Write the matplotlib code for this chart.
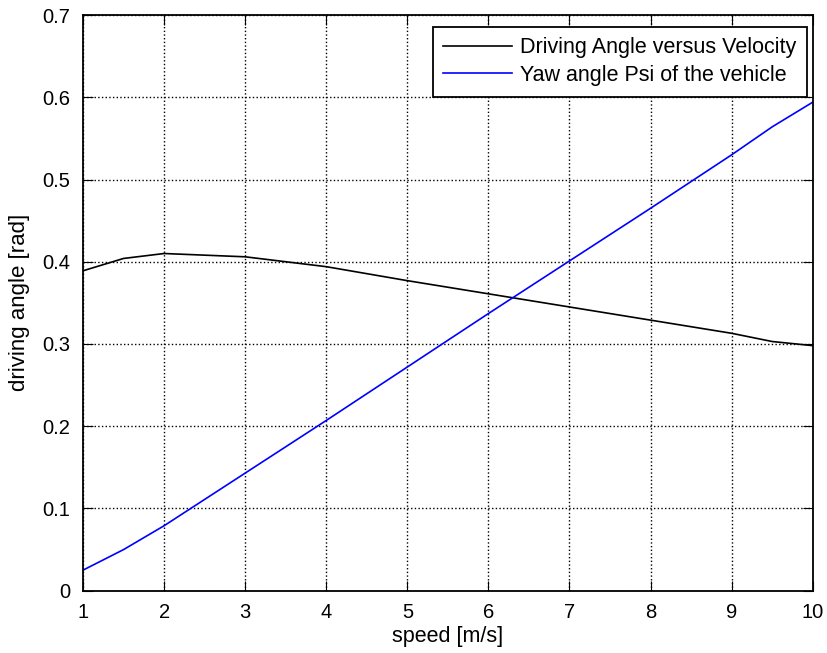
import numpy as np
import matplotlib.pyplot as plt

plt.rcParams['font.family'] = ['Liberation Sans', 'DejaVu Sans']

speed = [1, 1.5, 2, 3, 4, 5, 6, 7, 8, 9, 9.5, 10]
driving_angle = [0.389, 0.404, 0.410, 0.406, 0.394, 0.377, 0.361, 0.345, 0.329, 0.313, 0.303, 0.298]
yaw_angle = [0.025, 0.050, 0.079, 0.143, 0.207, 0.272, 0.337, 0.401, 0.465, 0.530, 0.564, 0.594]

fig = plt.figure(figsize=(8.27, 6.53), dpi=100)
ax = fig.add_axes([0.1004, 0.0954, 0.8823, 0.8816])

ax.plot(speed, driving_angle, color='black', lw=1.2, label='Driving Angle versus Velocity')
ax.plot(speed, yaw_angle, color='blue', lw=1.2, label='Yaw angle Psi of the vehicle')

ax.set_xlim(1, 10)
ax.set_ylim(0, 0.7)
ax.set_xticks(range(1, 11))
ax.set_yticks(np.arange(0, 0.71, 0.1))
ax.set_yticklabels(['0', '0.1', '0.2', '0.3', '0.4', '0.5', '0.6', '0.7'])
ax.grid(True, color='black', linestyle=':', lw=1)
ax.tick_params(direction='in', top=True, right=True, labelsize=14.5, length=7, pad=9)
for s in ax.spines.values():
    s.set_linewidth(1.3)

ax.set_xlabel('speed [m/s]', fontsize=15.5, labelpad=3)
ax.set_ylabel('driving angle [rad]', fontsize=16, labelpad=9)

leg = ax.legend(loc='upper right', bbox_to_anchor=(0.9918, 0.9797), borderaxespad=0,
                fontsize=15.5, fancybox=False, framealpha=1, edgecolor='black',
                handlelength=3.2, handletextpad=0.34, borderpad=0.5, labelspacing=0.3)
leg.get_frame().set_linewidth(1.3)

fig.savefig('out.png', dpi=100)
